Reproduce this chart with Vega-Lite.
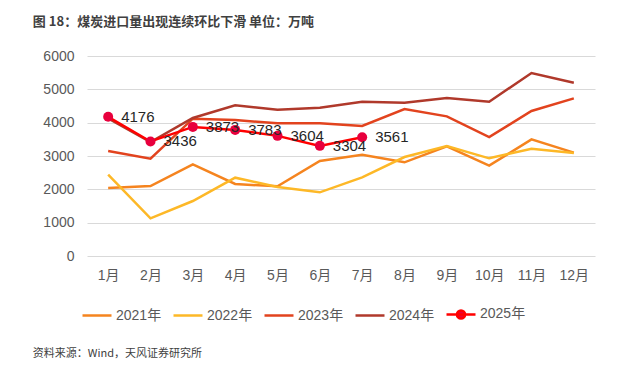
{
  "$schema": "https://vega.github.io/schema/vega-lite/v6.json",
  "background": "white",
  "padding": {"left": 32, "top": 16, "right": 5, "bottom": 5},
  "title": {
    "text": "资料来源：Wind，天风证券研究所",
    "orient": "bottom",
    "anchor": "start",
    "font": "Noto Sans CJK SC",
    "fontSize": 11,
    "fontWeight": "normal",
    "color": "#404040",
    "offset": 24
  },
  "datasets": {
    "imports": [
      {"month": "1月", "year": "2021年", "value": 2040},
      {"month": "2月", "year": "2021年", "value": 2100},
      {"month": "3月", "year": "2021年", "value": 2750},
      {"month": "4月", "year": "2021年", "value": 2160},
      {"month": "5月", "year": "2021年", "value": 2090},
      {"month": "6月", "year": "2021年", "value": 2850},
      {"month": "7月", "year": "2021年", "value": 3040},
      {"month": "8月", "year": "2021年", "value": 2810},
      {"month": "9月", "year": "2021年", "value": 3290},
      {"month": "10月", "year": "2021年", "value": 2710},
      {"month": "11月", "year": "2021年", "value": 3500},
      {"month": "12月", "year": "2021年", "value": 3100},
      {"month": "1月", "year": "2022年", "value": 2440},
      {"month": "2月", "year": "2022年", "value": 1130},
      {"month": "3月", "year": "2022年", "value": 1650},
      {"month": "4月", "year": "2022年", "value": 2350},
      {"month": "5月", "year": "2022年", "value": 2070},
      {"month": "6月", "year": "2022年", "value": 1910},
      {"month": "7月", "year": "2022年", "value": 2360},
      {"month": "8月", "year": "2022年", "value": 2970},
      {"month": "9月", "year": "2022年", "value": 3300},
      {"month": "10月", "year": "2022年", "value": 2930},
      {"month": "11月", "year": "2022年", "value": 3220},
      {"month": "12月", "year": "2022年", "value": 3090},
      {"month": "1月", "year": "2023年", "value": 3150},
      {"month": "2月", "year": "2023年", "value": 2920},
      {"month": "3月", "year": "2023年", "value": 4120},
      {"month": "4月", "year": "2023年", "value": 4080},
      {"month": "5月", "year": "2023年", "value": 3980},
      {"month": "6月", "year": "2023年", "value": 3980},
      {"month": "7月", "year": "2023年", "value": 3900},
      {"month": "8月", "year": "2023年", "value": 4410},
      {"month": "9月", "year": "2023年", "value": 4190},
      {"month": "10月", "year": "2023年", "value": 3570},
      {"month": "11月", "year": "2023年", "value": 4350},
      {"month": "12月", "year": "2023年", "value": 4730},
      {"month": "1月", "year": "2024年", "value": 4130},
      {"month": "2月", "year": "2024年", "value": 3420},
      {"month": "3月", "year": "2024年", "value": 4140},
      {"month": "4月", "year": "2024年", "value": 4520},
      {"month": "5月", "year": "2024年", "value": 4390},
      {"month": "6月", "year": "2024年", "value": 4450},
      {"month": "7月", "year": "2024年", "value": 4630},
      {"month": "8月", "year": "2024年", "value": 4600},
      {"month": "9月", "year": "2024年", "value": 4740},
      {"month": "10月", "year": "2024年", "value": 4630},
      {"month": "11月", "year": "2024年", "value": 5490},
      {"month": "12月", "year": "2024年", "value": 5200},
      {"month": "1月", "year": "2025年", "value": 4176},
      {"month": "2月", "year": "2025年", "value": 3436},
      {"month": "3月", "year": "2025年", "value": 3873},
      {"month": "4月", "year": "2025年", "value": 3783},
      {"month": "5月", "year": "2025年", "value": 3604},
      {"month": "6月", "year": "2025年", "value": 3304},
      {"month": "7月", "year": "2025年", "value": 3561}
    ]
  },
  "vconcat": [
    {
      "title": {
        "text": "图 18：煤炭进口量出现连续环比下滑 单位：万吨",
        "anchor": "start",
        "font": "Noto Sans CJK SC",
        "fontSize": 13,
        "fontWeight": "bold",
        "color": "#404040",
        "dx": -10,
        "offset": 20
      },
      "width": 508,
      "height": 200,
      "data": {"name": "imports"},
      "encoding": {
        "x": {
          "field": "month",
          "type": "ordinal",
          "sort": ["1月", "2月", "3月", "4月", "5月", "6月", "7月", "8月", "9月", "10月", "11月", "12月"],
          "scale": {"type": "point", "padding": 0.5},
          "axis": {
            "title": null,
            "labelAngle": 0,
            "domain": false,
            "ticks": false,
            "grid": false,
            "labelPadding": 12,
            "labelFontSize": 14,
            "labelColor": "#595959",
            "labelFont": "Liberation Sans, Noto Sans CJK SC"
          }
        },
        "y": {
          "field": "value",
          "type": "quantitative",
          "scale": {"domain": [0, 6000], "nice": false},
          "axis": {
            "title": null,
            "values": [0, 1000, 2000, 3000, 4000, 5000, 6000],
            "format": "d",
            "domain": false,
            "ticks": false,
            "grid": true,
            "gridColor": "#D9D9D9",
            "gridWidth": 1,
            "labelPadding": 13,
            "labelFontSize": 14,
            "labelColor": "#595959",
            "labelFont": "Liberation Sans"
          }
        }
      },
      "layer": [
        {
          "mark": {"type": "line", "strokeWidth": 2.5},
          "encoding": {
            "color": {
              "field": "year",
              "type": "nominal",
              "scale": {
                "domain": ["2021年", "2022年", "2023年", "2024年", "2025年"],
                "range": ["#F5841F", "#FDB827", "#E2431E", "#B0392B", "#FF0000"]
              },
              "legend": {
                "title": null,
                "orient": "none",
                "legendX": -6,
                "legendY": 242,
                "direction": "horizontal",
                "symbolType": "stroke",
                "symbolSize": 841,
                "symbolStrokeWidth": 2.5,
                "labelFontSize": 14,
                "labelColor": "#595959",
                "labelFont": "Liberation Sans, Noto Sans CJK SC",
                "labelOffset": 3,
                "columnPadding": 6,
                "encode": {
                  "symbols": {
                    "update": {
                      "shape": {"signal": "datum.value === '2025年' ? 'M-1,0H1M-0.28,0A0.28,0.28,0,1,1,0.28,0A0.28,0.28,0,1,1,-0.28,0Z' : 'stroke'"},
                      "fill": {"signal": "datum.value === '2025年' ? '#E8003D' : 'transparent'"}
                    }
                  }
                }
              }
            },
            "strokeWidth": {
              "condition": {"test": "datum.year === '2025年'", "value": 3},
              "value": 2.5
            }
          }
        },
        {
          "transform": [{"filter": "datum.year === '2025年'"}],
          "mark": {"type": "point", "filled": true, "size": 100, "color": "#E8003D", "opacity": 1},
          "encoding": {}
        },
        {
          "transform": [{"filter": "datum.year === '2025年'"}],
          "mark": {
            "type": "text",
            "align": "left",
            "baseline": "middle",
            "dx": 13,
            "fontSize": 15,
            "font": "Liberation Sans",
            "color": "#262626"
          },
          "encoding": {"text": {"field": "value", "type": "quantitative"}}
        }
      ]
    }
  ],
  "config": {
    "view": {"stroke": null},
    "font": "Liberation Sans, Noto Sans CJK SC"
  }
}
